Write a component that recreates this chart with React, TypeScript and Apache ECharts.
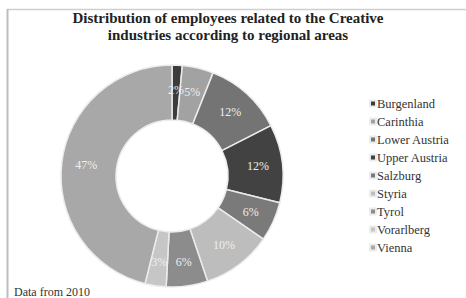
import React, { useEffect, useRef } from "react";
import * as echarts from "echarts";

const regions = ["Burgenland", "Carinthia", "Lower Austria", "Upper Austria", "Salzburg", "Styria", "Tyrol", "Vorarlberg", "Vienna"];
const shares = [1.5, 4.6, 11.6, 11.5, 5.8, 10.3, 6.1, 3.1, 46.6];
const colors = ["#3c3c3c", "#a2a2a2", "#747474", "#424242", "#7a7a7a", "#bdbdbd", "#8c8c8c", "#c6c6c6", "#a8a8a8"];
const titleLines = ["Distribution of employees related to the Creative", "industries according to regional areas"];
const note = "Data from 2010";

export default function App() {
  const ref = useRef<HTMLDivElement>(null);
  useEffect(() => {
    if (!ref.current) return;
    const chart = echarts.init(ref.current, null, { renderer: "svg" });
    const serif = "Liberation Serif";
    chart.setOption({
      animation: false,
      backgroundColor: "#ffffff",
      title: {
        text: titleLines.join("\n"),
        left: 223,
        textAlign: "center",
        top: 4,
        textStyle: { fontFamily: serif, fontWeight: "bold", fontSize: 15, color: "#222", lineHeight: 17 },
      },
      legend: {
        orient: "vertical",
        left: 364,
        top: 92,
        icon: "rect",
        itemWidth: 6,
        itemHeight: 6,
        itemGap: 5,
        textStyle: { fontFamily: serif, fontSize: 12.5, color: "#333", padding: [0, 0, 0, -4] },
        data: regions,
      },
      graphic: [
        { type: "line", shape: { x1: 7, y1: 9.5, x2: 466, y2: 9.5 }, style: { stroke: "#cfcfcf", lineWidth: 1.5 } },
        { type: "line", shape: { x1: 7.5, y1: 9, x2: 7.5, y2: 298 }, style: { stroke: "#bdbdbd", lineWidth: 2 } },
        {
          type: "text",
          left: 14,
          top: 286,
          style: { text: note, fontFamily: serif, fontSize: 12, fill: "#333" },
        },
      ],
      series: [
        {
          type: "pie",
          center: [172, 176],
          radius: [56, 111],
          startAngle: 90,
          clockwise: true,
          avoidLabelOverlap: false,
          data: regions.map((name, i) => ({ name, value: shares[i], itemStyle: { color: colors[i] } })),
          itemStyle: { borderColor: "#ececec", borderWidth: 1.5 },
          label: {
            show: true,
            position: "inside",
            formatter: (p: any) => Math.round(p.value) + "%",
            fontFamily: serif,
            fontSize: 12,
            color: "#eeeeee",
          },
          labelLine: { show: false },
          emphasis: { disabled: true },
        },
      ],
    });
    return () => chart.dispose();
  }, []);
  return <div ref={ref} style={{ width: 466, height: 298, position: "absolute", left: 0, top: 0 }} />;
}
